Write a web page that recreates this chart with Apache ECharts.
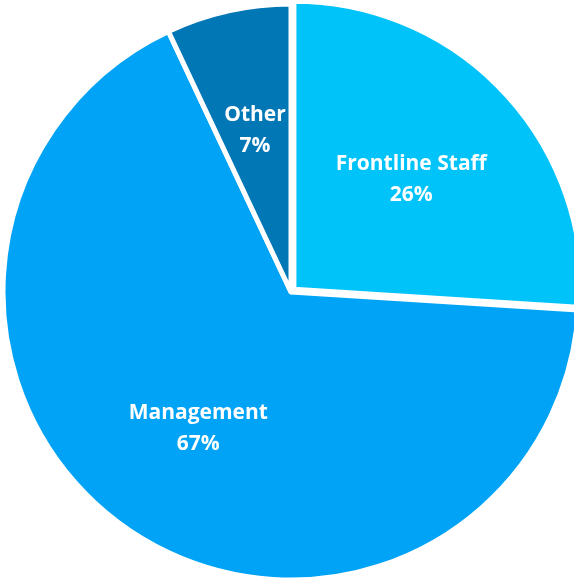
<!DOCTYPE html>
<html>
<head>
<meta charset="utf-8">
<script src="https://cdn.jsdelivr.net/npm/echarts@6/dist/echarts.min.js"></script>
<style>
  html, body { margin: 0; padding: 0; background: #fff; }
  #chart { width: 574px; height: 579px; }
</style>
</head>
<body>
<div id="chart"></div>
<script>
const categories = ['Frontline Staff', 'Management', 'Other']
const values = [26, 67, 7]
const colors = ['#00C3FA', '#00A3F5', '#0277B6']

const chart = echarts.init(document.getElementById('chart'))

const pieData = categories.map((name, i) => ({
  name: name,
  value: values[i],
  selected: i === 0,
  itemStyle: { color: colors[i] }
}))

chart.setOption({
  animation: false,
  series: [
    {
      type: 'pie',
      center: [291, 292],
      radius: [0, 288],
      startAngle: 90,
      clockwise: true,
      selectedMode: 'single',
      selectedOffset: 4,
      itemStyle: { borderColor: '#fff', borderWidth: 5 },
      label: { show: false },
      labelLine: { show: false },
      emphasis: { disabled: true },
      data: pieData
    },
    {
      // label layer only, placed further out than the default inside position
      type: 'pie',
      silent: true,
      center: [291, 292],
      radius: [36, 288],
      startAngle: 90,
      clockwise: true,
      itemStyle: { color: 'transparent' },
      label: {
        show: true,
        position: 'inside',
        formatter: '{b}\n{d}%',
        color: '#fff',
        fontFamily: 'Open Sans',
        fontWeight: 'bold',
        fontSize: 21,
        lineHeight: 31
      },
      labelLine: { show: false },
      emphasis: { disabled: true },
      data: categories.map((name, i) => ({ name: name, value: values[i] }))
    }
  ]
})
</script>
</body>
</html>
